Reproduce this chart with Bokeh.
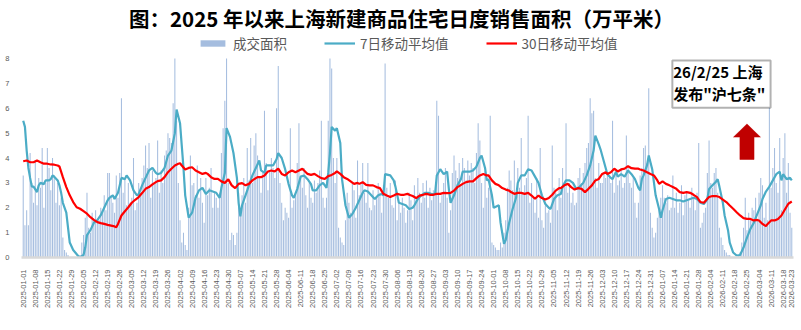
import math
import pandas as pd
from bokeh.plotting import figure
from bokeh.models import (Range1d, FixedTicker, Legend, LegendItem, BoxAnnotation, Label)
from bokeh.embed import file_html
from bokeh.resources import INLINE

# ---------------- data ----------------
start_date = "2025-01-01"
end_date = "2026-03-23"

# daily transaction area (10k m2), one value per day from 2025-01-01 (as drawn, top of axis = 8)
daily_area = [
    3.3, 1.3, 1.9, 1.3, 4.2, 3.0, 2.2,
    3.9, 2.1, 3.2, 2.8, 4.4, 2.0, 3.0,
    4.4, 3.6, 2.7, 4.0, 3.3, 2.2, 3.0,
    2.1, 2.4, 0.8, 0.3, 0.2, 0.1, 0.0,
    0.0, 0.0, 0.0, 0.0, 0.0, 0.1, 0.6,
    0.9, 1.6, 2.6, 1.2, 1.0, 1.8, 1.5,
    1.9, 1.4, 1.5, 2.0, 1.9, 2.5, 1.9,
    3.4, 3.4, 2.5, 2.2, 1.8, 3.3, 2.4,
    3.4, 6.4, 2.6, 3.2, 2.1, 3.0, 2.2,
    2.4, 4.0, 1.9, 2.2, 3.0, 2.6, 3.2,
    3.7, 4.5, 3.6, 4.6, 2.4, 3.5, 3.0,
    3.2, 4.7, 2.6, 3.5, 3.0, 4.1, 4.3,
    5.0, 4.8, 4.6, 6.2, 8.0, 5.5, 3.0,
    1.5, 0.6, 1.0, 0.5, 0.3, 2.0, 4.1,
    2.9, 3.0, 2.5, 3.7, 2.4, 3.2, 2.2,
    1.4, 3.2, 2.5, 2.8, 3.6, 2.0, 2.6,
    2.4, 2.0, 2.6, 4.2, 5.2, 6.3, 8.0,
    3.0, 0.7, 1.0, 0.9, 0.5, 1.0, 2.6,
    2.0, 2.5, 3.2, 2.2, 4.4, 3.1, 4.8,
    3.0, 4.5, 5.0, 4.1, 3.2, 2.6, 3.4,
    5.9, 3.8, 2.7, 3.5, 4.0, 3.6, 3.2,
    6.0, 7.7, 3.0, 2.2, 1.5, 2.0, 1.8,
    1.6, 5.2, 2.0, 2.3, 2.6, 3.8, 5.4,
    3.2, 2.8, 3.6, 2.5, 2.0, 3.0, 2.4,
    2.2, 3.1, 2.6, 3.0, 3.5, 5.5, 2.4,
    2.0, 2.4, 5.5, 8.0, 7.6, 4.0, 3.0,
    4.0, 1.2, 0.8, 0.6, 0.5, 1.5, 2.6,
    2.2, 1.8, 3.0, 2.7, 1.6, 3.9, 2.5,
    3.0, 3.8, 2.6, 2.2, 3.8, 2.0, 1.9,
    2.7, 2.1, 2.4, 3.0, 2.6, 1.8, 2.9,
    7.8, 2.8, 2.4, 3.0, 2.1, 2.0, 3.1,
    1.5, 2.2, 1.8, 2.4, 2.0, 1.4, 1.9,
    2.6, 2.3, 1.5, 2.9, 2.4, 3.2, 2.6,
    2.2, 3.0, 2.4, 3.1, 2.0, 2.8, 2.3,
    2.7, 2.5, 6.3, 5.7, 2.2, 2.5, 3.0,
    3.6, 2.4, 1.0, 1.9, 3.4, 4.1, 3.5,
    3.2, 3.8, 2.9, 4.0, 3.6, 3.1, 3.9,
    3.3, 3.8, 3.6, 3.0, 4.2, 5.4, 4.7,
    3.0, 2.0, 3.5, 2.4, 2.8, 5.7, 0.6,
    0.5, 0.4, 0.3, 0.3, 0.6, 0.4, 1.0,
    1.5, 2.8, 3.5, 3.1, 2.7, 3.9, 2.4,
    3.6, 2.8, 4.8, 2.6, 2.9, 3.2, 5.7,
    2.2, 3.0, 2.4, 1.8, 3.2, 1.6, 4.4,
    1.5, 1.2, 2.1, 1.8, 1.9, 1.4, 4.5,
    2.8, 2.6, 1.9, 3.2, 2.4, 3.6, 2.9,
    5.4, 2.6, 3.0, 2.2, 2.6, 2.1, 2.2,
    3.2, 3.6, 3.0, 3.4, 3.8, 4.4, 4.6,
    6.4, 5.8, 5.9, 3.2, 2.8, 3.8, 3.0,
    3.0, 3.4, 3.2, 3.4, 3.2, 3.0, 5.5,
    2.6, 3.4, 2.9, 3.1, 3.6, 2.8, 3.0,
    4.9, 3.6, 3.0, 2.8, 3.2, 2.2, 1.6,
    2.2, 3.3, 3.6, 4.4, 4.5, 3.8, 6.8,
    1.8, 1.2, 0.8, 1.0, 1.6, 1.9, 2.4,
    2.9, 2.4, 2.2, 2.5, 1.9, 2.0, 3.3,
    2.0, 2.6, 1.8, 2.2, 2.9, 1.7, 2.5,
    2.6, 2.3, 2.0, 2.8, 2.4, 1.9, 2.6,
    4.6, 1.2, 1.4, 1.8, 2.0, 3.4, 4.7,
    3.0, 2.8, 3.4, 3.6, 2.6, 1.2, 0.8,
    0.5, 0.3, 0.2, 0.1, 0.1, 0.0, 0.0,
    0.0, 0.0, 0.1, 0.2, 0.6, 1.2, 2.4,
    1.1, 1.8, 1.5, 2.0, 1.9, 2.4, 1.5,
    2.6, 3.2, 2.9, 1.6, 2.2, 1.5, 6.1,
    2.8, 3.6, 4.4, 3.0, 2.6, 4.8, 1.9,
    4.0, 5.0, 2.6, 3.8, 1.8, 1.2,
]

# 7-day moving average (day index from start, value)
ma7_day = [0, 1, 2, 3, 4, 5, 6, 8, 9, 10, 12, 13, 15, 16, 17, 18, 20, 21, 22, 23,
           25, 26, 27, 29, 32, 33, 35, 36, 37, 39, 41, 43, 45, 47, 49, 50, 52, 53, 55, 57,
           59, 60, 62, 64, 66, 67, 69, 71, 73, 75, 77, 78, 80, 82, 84, 86, 88, 89, 91, 92,
           93, 94, 96, 98, 100, 102, 104, 106, 108, 110, 112, 114, 115, 117, 118, 120, 122, 124, 125, 126,
           127, 129, 131, 133, 135, 137, 138, 140, 141, 143, 145, 147, 148, 150, 152, 154, 156, 157, 159, 161,
           163, 165, 167, 168, 170, 172, 174, 176, 177, 178, 179, 181, 182, 184, 185, 187, 189, 191, 193, 195,
           197, 198, 200, 202, 204, 206, 208, 209, 210, 213, 215, 216, 218, 220, 222, 224, 226, 227, 229, 231,
           233, 235, 237, 239, 240, 242, 244, 246, 247, 248, 250, 252, 254, 255, 257, 259, 261, 263, 265, 266,
           268, 269, 270, 272, 273, 276, 277, 279, 280, 282, 284, 286, 287, 289, 291, 293, 295, 297, 299, 301,
           303, 305, 306, 308, 310, 312, 313, 315, 317, 319, 321, 323, 325, 327, 329, 331, 332, 334, 335, 337,
           339, 341, 342, 344, 345, 347, 349, 351, 353, 355, 357, 358, 359, 360, 362, 363, 365, 367, 369, 370,
           371, 373, 375, 377, 379, 381, 383, 385, 387, 389, 391, 393, 395, 397, 398, 400, 402, 403, 404, 406,
           407, 409, 410, 412, 414, 416, 418, 420, 422, 424, 426, 428, 429, 431, 433, 435, 437, 439, 440, 441,
           443, 445, 446]
ma7_val = [5.5, 5.25, 4.3, 3.6, 3.2, 2.85, 2.85, 2.63, 2.9, 3.0, 2.95, 3.1, 3.1, 3.15, 3.3, 3.25, 3.1, 2.9, 2.6, 2.2,
           1.8, 1.2, 0.6, 0.3, 0.05, 0.0, 0.1, 0.4, 0.9, 1.1, 1.4, 1.5, 1.7, 2.0, 2.3, 2.4, 2.5, 2.35, 2.6, 3.2,
           3.15, 3.3, 3.1, 2.7, 2.5, 2.55, 2.9, 3.2, 3.5, 3.6, 3.4, 3.35, 3.4, 3.6, 4.1, 4.3, 5.0, 5.95, 5.4, 4.5,
           3.6, 2.5, 1.6, 1.8, 2.4, 2.7, 2.8, 2.55, 2.7, 2.65, 2.6, 2.4, 2.8, 3.4, 5.2, 4.85, 4.2, 3.2, 2.2, 1.65,
           2.1, 2.5, 2.9, 3.3, 3.6, 3.9, 3.5, 3.4, 3.7, 3.7, 3.7, 3.95, 4.2, 4.0, 3.55, 2.95, 2.5, 2.4, 2.75, 3.25,
           3.3, 3.15, 2.95, 2.7, 2.7, 2.9, 3.0, 2.8, 3.4, 4.2, 5.25, 5.1, 5.2, 4.6, 3.15, 2.1, 1.6, 1.75, 2.0, 2.3,
           2.6, 2.7, 2.65, 2.5, 2.35, 2.5, 2.55, 2.5, 3.35, 3.3, 3.1, 2.85, 2.2, 2.15, 2.1, 1.95, 2.0, 2.1, 2.35, 2.5,
           2.6, 2.6, 2.55, 2.55, 3.3, 3.55, 3.35, 3.45, 2.75, 2.2, 2.5, 2.9, 3.15, 3.45, 3.45, 3.45, 3.5, 3.65, 4.0, 4.1,
           3.6, 3.1, 3.15, 2.5, 2.0, 2.1, 1.4, 0.55, 0.7, 1.4, 1.95, 2.4, 3.0, 3.3, 3.3, 3.55, 3.5, 3.25, 3.0, 2.5,
           2.15, 2.0, 1.95, 2.35, 2.5, 2.55, 2.85, 3.1, 3.1, 3.0, 2.75, 2.85, 3.0, 3.3, 3.7, 4.3, 4.9, 4.55, 4.35, 3.85,
           3.35, 3.2, 3.15, 3.45, 3.25, 3.35, 3.25, 3.5, 3.35, 3.15, 2.8, 2.7, 3.15, 3.3, 3.7, 4.1, 3.55, 2.5, 1.95, 1.6,
           1.9, 2.35, 2.4, 2.35, 2.3, 2.3, 2.25, 2.3, 2.35, 2.4, 2.35, 2.2, 2.15, 2.35, 2.75, 2.9, 3.05, 3.15, 2.85, 2.2,
           1.7, 1.1, 0.6, 0.2, 0.08, 0.1, 0.4, 0.8, 1.15, 1.4, 1.75, 2.1, 2.35, 2.65, 2.85, 3.1, 3.35, 3.45, 3.1, 3.35,
           3.15, 3.2, 3.1]

# 30-day moving average (day index from start, value)
ma30_day = [0, 2, 4, 6, 8, 10, 12, 14, 16, 18, 20, 21, 23, 25, 27, 29, 31, 33, 35, 37,
            39, 41, 43, 45, 47, 49, 51, 53, 54, 55, 57, 59, 61, 63, 65, 67, 69, 71, 73, 75,
            77, 78, 80, 82, 84, 86, 88, 90, 91, 92, 94, 96, 98, 100, 102, 104, 106, 107, 109, 111,
            113, 115, 117, 119, 121, 123, 125, 127, 129, 131, 133, 135, 136, 138, 140, 142, 144, 146, 148, 150,
            152, 154, 156, 158, 160, 162, 164, 165, 167, 169, 171, 173, 175, 177, 179, 181, 182, 184, 186, 188,
            190, 192, 194, 195, 197, 199, 201, 203, 205, 207, 209, 211, 213, 215, 217, 219, 221, 223, 224, 226,
            228, 230, 232, 234, 236, 238, 240, 242, 244, 246, 248, 250, 252, 253, 255, 257, 259, 261, 263, 265,
            267, 269, 270, 272, 274, 276, 278, 280, 282, 283, 285, 287, 289, 291, 293, 295, 297, 299, 301, 303,
            305, 307, 309, 311, 312, 314, 316, 318, 320, 322, 324, 326, 328, 330, 332, 334, 336, 338, 339, 341,
            343, 345, 347, 349, 351, 353, 355, 357, 358, 360, 362, 364, 366, 368, 369, 371, 373, 375, 377, 379,
            381, 383, 385, 387, 389, 391, 393, 395, 397, 398, 400, 402, 404, 406, 408, 410, 412, 414, 416, 418,
            420, 422, 424, 426, 427, 429, 431, 432, 434, 436, 438, 440, 442, 444, 446]
ma30_val = [3.87, 3.9, 3.83, 3.83, 3.9, 3.83, 3.77, 3.77, 3.74, 3.73, 3.7, 3.66, 3.23, 2.83, 2.5, 2.23, 2.02, 1.96, 1.86, 1.76,
            1.62, 1.51, 1.42, 1.38, 1.35, 1.31, 1.28, 1.25, 1.22, 1.35, 1.69, 1.86, 2.02, 2.2, 2.32, 2.43, 2.59, 2.76, 2.83, 2.94,
            3.03, 3.07, 3.1, 3.23, 3.43, 3.57, 3.7, 3.77, 3.79, 3.7, 3.54, 3.6, 3.63, 3.5, 3.43, 3.36, 3.4, 3.36, 3.23, 3.16,
            3.16, 3.06, 3.0, 3.14, 2.9, 2.79, 2.96, 2.99, 2.9, 2.96, 3.1, 3.19, 3.23, 3.23, 3.3, 3.46, 3.5, 3.46, 3.57, 3.36,
            3.3, 3.43, 3.5, 3.43, 3.5, 3.57, 3.43, 3.36, 3.32, 3.36, 3.27, 3.19, 3.16, 3.27, 3.32, 3.4, 3.46, 3.36, 3.23, 3.16,
            3.06, 2.96, 3.0, 2.96, 3.03, 2.92, 2.9, 2.9, 2.83, 2.79, 2.56, 2.49, 2.43, 2.49, 2.56, 2.52, 2.52, 2.56, 2.52, 2.47,
            2.39, 2.49, 2.52, 2.56, 2.52, 2.52, 2.56, 2.56, 2.6, 2.59, 2.6, 2.69, 2.83, 2.87, 2.96, 3.03, 3.06, 3.06, 3.19, 3.3,
            3.36, 3.3, 3.3, 3.1, 2.96, 2.9, 2.79, 2.73, 2.69, 2.63, 2.56, 2.6, 2.6, 2.56, 2.6, 2.49, 2.36, 2.49, 2.39, 2.33,
            2.39, 2.52, 2.69, 2.79, 2.79, 2.9, 2.96, 2.83, 2.73, 2.79, 2.76, 2.63, 2.76, 2.9, 3.1, 3.16, 3.36, 3.43, 3.36, 3.43,
            3.57, 3.46, 3.54, 3.57, 3.67, 3.59, 3.57, 3.57, 3.54, 3.5, 3.43, 3.36, 3.3, 3.1, 2.96, 3.06, 2.96, 2.9, 2.83, 2.76,
            2.63, 2.6, 2.63, 2.6, 2.52, 2.43, 2.23, 2.2, 2.36, 2.43, 2.47, 2.47, 2.43, 2.33, 2.23, 2.09, 1.96, 1.82, 1.69, 1.58,
            1.55, 1.55, 1.49, 1.51, 1.49, 1.35, 1.26, 1.35, 1.49, 1.49, 1.55, 1.69, 1.93, 2.16, 2.25]

y_ticks = [0, 1, 2, 3, 4, 5, 6, 7, 8]
policy_date = "2026-02-25"
note_line1 = "26/2/25 上海"
note_line2 = '发布"沪七条"'
title_text = "图：2025 年以来上海新建商品住宅日度销售面积（万平米）"
legend_labels = ["成交面积", "7日移动平均值", "30日移动平均值"]

# ---------------- derived ----------------
dates = pd.date_range(start_date, end_date, freq="D")
n = len(dates)
assert n == len(daily_area), (n, len(daily_area))
assert len(ma7_day) == len(ma7_val), (len(ma7_day), len(ma7_val))
assert len(ma30_day) == len(ma30_val), (len(ma30_day), len(ma30_val))
day_idx = list(range(n))
tick_days = list(range(0, n, 7))
if tick_days[-1] != n - 1:
    tick_days.append(n - 1)
tick_labels = {d: dates[d].strftime("%Y-%m-%d") for d in tick_days}
policy_idx = int((pd.Timestamp(policy_date) - pd.Timestamp(start_date)).days)

CJK = "Noto Sans CJK SC"
LAT = "Liberation Sans"

# frame spans canvas y=0 .. 257; value 8 sits at y=58 (space above holds title + legend)
FRAME_L, FRAME_R = 21, 793
Y0, Y8 = 257, 58
PX_PER_UNIT = (Y0 - Y8) / 8
y_top = Y0 / PX_PER_UNIT
x_lo, x_hi = -1, n
px_per_day = (FRAME_R - FRAME_L) / (x_hi - x_lo)


def canvas_to_value(ypix):
    return (Y0 - ypix) / PX_PER_UNIT


def canvas_to_day(xpix):
    return x_lo + (xpix - FRAME_L) / px_per_day


p = figure(width=801, height=330, x_range=Range1d(x_lo, x_hi), y_range=Range1d(0, y_top),
           output_backend="svg", toolbar_location=None, title=None,
           min_border_left=FRAME_L, min_border_right=801 - FRAME_R, min_border_top=0, min_border_bottom=330 - Y0)
p.outline_line_color = None
p.xgrid.visible = False
p.ygrid.visible = False
p.background_fill_color = "white"
p.border_fill_color = "white"

bars = p.vbar(x=day_idx, top=daily_area, width=0.6, fill_color="#A5BDDF", line_color=None)
l7 = p.line(ma7_day, ma7_val, line_color="#4BACC6", line_width=2.2)
l30 = p.line(ma30_day, ma30_val, line_color="#FF0000", line_width=2.2)

# axes
p.yaxis.ticker = FixedTicker(ticks=y_ticks)
p.yaxis.axis_line_color = None
p.yaxis.major_tick_line_color = None
p.yaxis.minor_tick_line_color = None
p.yaxis.major_label_text_font = LAT
p.yaxis.major_label_text_font_size = "7.5px"
p.yaxis.major_label_text_color = "#595959"
p.yaxis.major_label_standoff = 6

p.xaxis.ticker = FixedTicker(ticks=tick_days)
p.xaxis.major_label_overrides = tick_labels
p.xaxis.major_label_orientation = math.pi / 2
p.xaxis.major_label_text_font = LAT
p.xaxis.major_label_text_font_size = "7.5px"
p.xaxis.major_label_text_color = "#595959"
p.xaxis.major_tick_line_color = None
p.xaxis.minor_tick_line_color = None
p.xaxis.axis_line_color = "#D9D9D9"
p.xaxis.axis_line_width = 2.5
p.xaxis.major_label_standoff = 6

# title as a label at the top of the canvas
p.add_layout(Label(x=canvas_to_day(401), y=canvas_to_value(2), text=title_text, text_font=CJK,
                   text_font_size="20.5px", text_font_style="bold", text_color="#000000",
                   text_align="center", text_baseline="top"))

# legend (inside the frame, above the value-8 line)
legend = Legend(items=[LegendItem(label=legend_labels[0], renderers=[bars]),
                       LegendItem(label=legend_labels[1], renderers=[l7]),
                       LegendItem(label=legend_labels[2], renderers=[l30])],
                orientation="horizontal", location=(176, Y0 - 46 - 7))
legend.label_text_font = CJK
legend.label_text_font_size = "13.5px"
legend.label_text_color = "#595959"
legend.glyph_width = 31
legend.glyph_height = 8
legend.label_height = 14
legend.label_standoff = 5
legend.spacing = 37
legend.padding = 0
legend.margin = 0
legend.border_line_color = None
legend.background_fill_alpha = 0
p.add_layout(legend)

# annotation box, text and arrow around the policy date
box = BoxAnnotation(left=policy_idx - 43.3, right=policy_idx + 13.7, bottom=6.02, top=7.92,
                    fill_color="white", fill_alpha=1.0, line_color="black", line_width=2)
p.add_layout(box)
for txt, yy in [(note_line1, 7.46), (note_line2, 6.61)]:
    p.add_layout(Label(x=policy_idx - 42.8, y=yy, text=txt, text_font=CJK, text_font_size="15px",
                       text_font_style="bold", text_color="black", text_baseline="middle", text_align="left"))

hx, sx = 7.8, 4.1
tip, base, bottom = 5.37, 4.84, 3.94
p.patch([policy_idx - sx, policy_idx - sx, policy_idx - hx, policy_idx, policy_idx + hx, policy_idx + sx, policy_idx + sx],
        [bottom, base, base, tip, base, base, bottom], fill_color="#C00000", line_color="#C00000", line_width=0.5)

open("out.html", "w").write(file_html(p, INLINE))
